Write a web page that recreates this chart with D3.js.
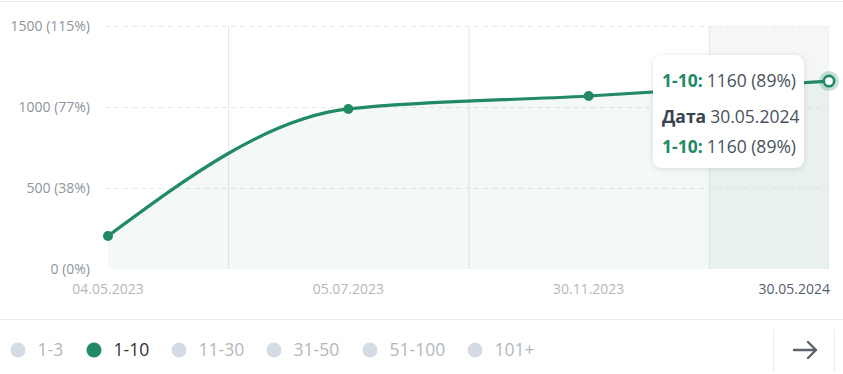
<!DOCTYPE html>
<html><head><meta charset="utf-8">
<script src="https://cdn.jsdelivr.net/npm/d3@7"></script>
<style>
html,body{margin:0;padding:0;background:#fff;}
svg{display:block;font-family:"Open Sans",sans-serif;}
</style></head>
<body>
<svg id="c" width="843" height="374"></svg>
<script>
const dates = ["04.05.2023","05.07.2023","30.11.2023","30.05.2024"];
const values = [204, 988, 1068, 1160];
const yTicks = [0, 500, 1000, 1500];
const yTickLabels = ["0 (0%)","500 (38%)","1000 (77%)","1500 (115%)"];
const legendNames = ["1-3","1-10","11-30","31-50","51-100","101+"];
const activeSeries = "1-10";
const tooltipValue = "1160 (89%)";

const green = "#218a62";
const svg = d3.select("#c");
const x = d3.scalePoint().domain(dates).range([108, 829]);
const y = d3.scaleLinear().domain([0, 1500]).range([269, 26]);
const step = x.step();

// top border
svg.append("line").attr("x1",0).attr("x2",843).attr("y1",1.5).attr("y2",1.5).attr("stroke","#e8ecf1").attr("stroke-width",1);

// hover band
const lastX = x(dates[dates.length-1]);
svg.append("rect").attr("x", lastX - step/2).attr("y", y(1500)).attr("width", step/2).attr("height", y(0)-y(1500))
  .attr("fill","#f4f6f8");

// vertical separators
dates.slice(1).forEach(d=>{
  svg.append("line").attr("x1",x(d)-step/2+0.5).attr("x2",x(d)-step/2+0.5).attr("y1",y(1500)).attr("y2",y(0))
    .attr("stroke","#e4e7eb");
});
svg.append("line").attr("x1",lastX-0.5).attr("x2",lastX-0.5).attr("y1",y(1500)).attr("y2",y(0)).attr("stroke","#f0f2f4");

// horizontal dashed grid
yTicks.filter(t=>t>0).forEach(t=>{
  svg.append("line").attr("x1",105).attr("x2",lastX).attr("y1",y(t)+0.5).attr("y2",y(t)+0.5)
    .attr("stroke","#e6e9ed").attr("stroke-dasharray","5,4");
});

// y labels
yTicks.forEach((t,i)=>{
  svg.append("text").attr("x",90).attr("y",y(t)).attr("dy","0.35em").attr("text-anchor","end")
    .attr("font-size",14).attr("fill","#8e959e").text(yTickLabels[i]);
});

// x labels
dates.forEach((d,i)=>{
  const last = i===dates.length-1;
  svg.append("text").attr("x", last ? x(d)+1 : x(d)).attr("y",294)
    .attr("text-anchor", last ? "end" : "middle")
    .attr("font-size",14).attr("fill", last ? "#55606e" : "#b3b8be").text(d);
});

const pts = dates.map((d,i)=>[x(d), y(values[i])]);
const area = d3.area().x(p=>p[0]).y0(y(0)).y1(p=>p[1]).curve(d3.curveMonotoneX);
svg.append("path").attr("d", area(pts)).attr("fill","#1e8a60").attr("fill-opacity",0.05);
const line = d3.line().x(p=>p[0]).y(p=>p[1]).curve(d3.curveMonotoneX);
svg.append("path").attr("d", line(pts)).attr("fill","none").attr("stroke",green).attr("stroke-width",3.2);

pts.slice(0,-1).forEach(p=>{
  svg.append("circle").attr("cx",p[0]).attr("cy",p[1]).attr("r",5).attr("fill",green);
});
const lp = pts[pts.length-1];
svg.append("circle").attr("cx",lp[0]).attr("cy",lp[1]).attr("r",10).attr("fill",green).attr("fill-opacity",0.25);
svg.append("circle").attr("cx",lp[0]).attr("cy",lp[1]).attr("r",5.2).attr("fill","#fff").attr("stroke",green).attr("stroke-width",2.6);

// tooltip
const defs = svg.append("defs");
const f = defs.append("filter").attr("id","sh").attr("x","-20%").attr("y","-20%").attr("width","140%").attr("height","140%");
f.append("feDropShadow").attr("dx",0).attr("dy",1).attr("stdDeviation",3).attr("flood-color","#000").attr("flood-opacity",0.12);
svg.append("rect").attr("x",653).attr("y",55).attr("width",151).attr("height",113).attr("rx",9)
  .attr("fill","#fff").attr("filter","url(#sh)");
const tt = [[activeSeries+":", tooltipValue, green], ["Дата", dates[dates.length-1], "#3a4352"], [activeSeries+":", tooltipValue, green]];
const ttY = [87, 123, 153];
tt.forEach((r,i)=>{
  const t = svg.append("text").attr("x",662).attr("y",ttY[i]).attr("font-size",17.5);
  t.append("tspan").attr("font-weight",700).attr("fill",r[2]).text(r[0]);
  t.append("tspan").attr("fill","#4a525e").attr("dx",4).text(r[1]);
});

// bottom separator
svg.append("line").attr("x1",0).attr("x2",843).attr("y1",319.5).attr("y2",319.5).attr("stroke","#e8ecf1");

// legend
const legX = [18, 94, 179, 274, 370, 475];
legendNames.forEach((n,i)=>{
  const act = n===activeSeries;
  svg.append("circle").attr("cx",legX[i]).attr("cy",350).attr("r",7.5).attr("fill", act ? green : "#d4dbe4");
  svg.append("text").attr("x",legX[i]+19.5).attr("y",350).attr("dy","0.35em").attr("font-size",17.5)
    .attr("fill", act ? "#2b2f35" : "#b2b7bd").text(n);
});

// arrow button
svg.append("line").attr("x1",773.5).attr("x2",773.5).attr("y1",330).attr("y2",371).attr("stroke","#e8ebef");
svg.append("line").attr("x1",834.5).attr("x2",834.5).attr("y1",330).attr("y2",371).attr("stroke","#e8ebef");
svg.append("path").attr("d","M794,350 H816 M808,342 L816,350 L808,358").attr("fill","none")
  .attr("stroke","#5b636d").attr("stroke-width",2.4).attr("stroke-linecap","round").attr("stroke-linejoin","round");
</script>
</body></html>
